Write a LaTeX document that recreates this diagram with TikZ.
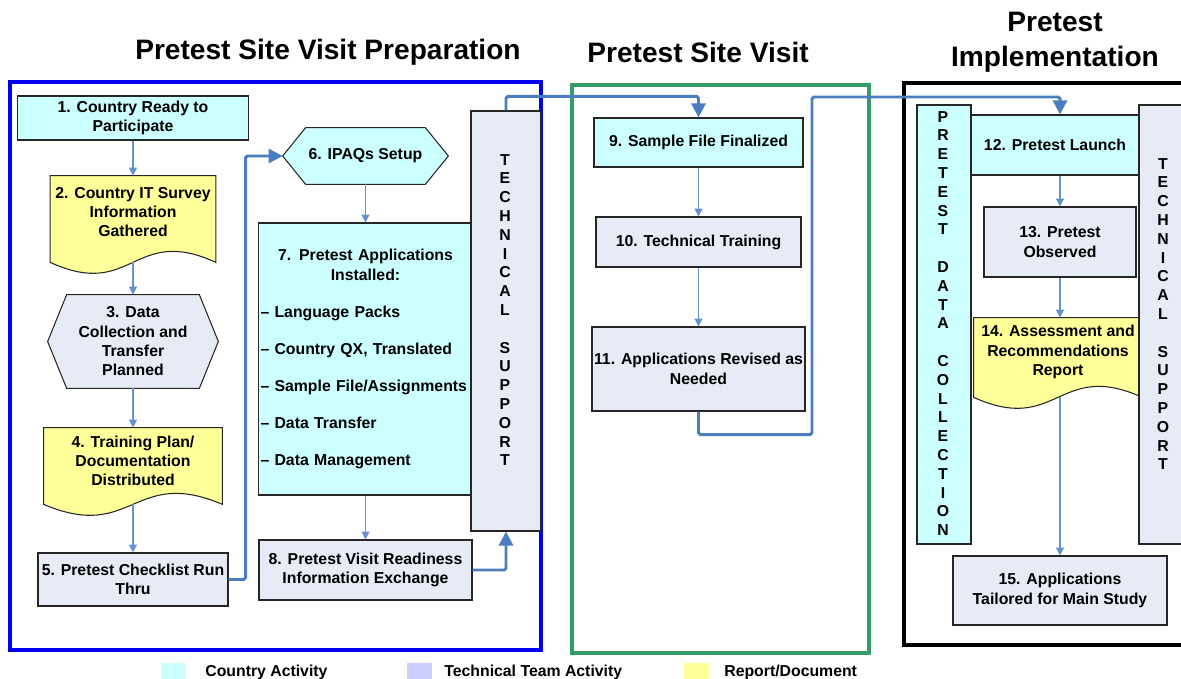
\documentclass[tikz,border=0pt]{standalone}
\usepackage{fontspec}
\setmainfont{Liberation Sans}
\usetikzlibrary{
    arrows.meta,
    calc,
    backgrounds
}
\definecolor{countrycyan}{RGB}{204,255,255}
\definecolor{techlavender}{RGB}{230,235,246}
\definecolor{legendlavender}{RGB}{204,204,255}
\definecolor{reportyellow}{RGB}{255,255,153}
\definecolor{flowblue}{RGB}{74,126,193}
\definecolor{thinblue}{RGB}{100,145,210}
\definecolor{prepblue}{RGB}{0,0,238}
\definecolor{visitgreen}{RGB}{53,156,103}
\tikzset{
    % Sizes (in pixels of the picture)
    sized/.style 2 args={minimum width=#1*0.02cm,minimum height=#2*0.02cm},
    %
    % Boxes
    box/.style={draw=black!85,line width=0.6pt,align=center,inner xsep=1pt,inner ysep=1pt},
    country box/.style={box,fill=countrycyan},
    tech box/.style={box,fill=techlavender},
    doc box/.style={align=center,inner sep=1pt},
    shape line/.style={draw=black!85,line width=0.6pt},
    bar/.style={box,inner sep=0pt},
    letters/.style={align=center,inner sep=0pt,font=\fontsize{9}{10.7}\selectfont\bfseries},
    %
    % Frames and titles
    frame/.style={line width=1.9pt,color=#1},
    title/.style={align=center,font=\fontsize{16}{20}\selectfont\bfseries},
    %
    % Arrows
    flow tip/.tip={Triangle[length=4.5pt,width=4.5pt]},
    big tip/.tip={Triangle[length=8pt,width=8pt]},
    arr/.style={-{flow tip},draw=thinblue,line width=0.75pt},
    conn/.style={-{big tip},draw=flowblue,line width=1.7pt,rounded corners=1pt},
    %
    % Legend
    swatch/.style={minimum width=25*0.02cm,minimum height=18*0.02cm,inner sep=0pt},
    legend text/.style={anchor=west,inner sep=0pt}
}
\tikzstyle{every node}=[font=\fontsize{9}{11}\selectfont\bfseries]

\begin{document}
\begin{tikzpicture}[x=0.02cm,y=-0.02cm]
    \useasboundingbox (0,0) rectangle (1181,679);

    % titles and frames
    \node[title] (t prep) at (328,52) {Pretest Site Visit Preparation};
    \node[title] (t visit) at (698,52) {Pretest Site Visit};
    \node[title] (t impl) at (1055,42) {Pretest\\Implementation};
    \draw[frame=prepblue] (10,82) rectangle (541,650);
    \draw[frame=visitgreen] (572,85) rectangle (869,653);
    \draw[frame=black] (904,83) rectangle (1195,645);

    % preparation
    \node[country box,sized={231}{44}] (n1) at (133,118) {1. Country Ready to\\Participate};
    \node[doc box,sized={165}{72}] (n2) at (133,212) {2. Country IT Survey\\Information\\Gathered};
    \node[doc box,sized={132}{93}] (n3) at (133,341.5) {3. Data\\Collection and\\Transfer\\Planned};
    \node[doc box,sized={178}{66}] (n4) at (133,461) {4. Training Plan/\\Documentation\\Distributed};
    \node[tech box,sized={190}{53}] (n5) at (133,579.5) {5. Pretest Checklist Run\\Thru};
    \node[doc box,sized={119}{56}] (n6) at (365.5,156) {6. IPAQs Setup};
    \node[country box,sized={212}{272},text width=210*0.02cm,align=left] (n7) at (365.5,359) {%
        {\centering 7. Pretest Applications\\Installed:\par}\vspace{10.5pt}%
        \textendash{} Language Packs\\[10pt]%
        \textendash{} Country QX, Translated\\[10pt]%
        \textendash{} Sample File/Assignments\\[10pt]%
        \textendash{} Data Transfer\\[10pt]%
        \textendash{} Data Management};
    \node[tech box,sized={213}{60}] (n8) at (365.5,570) {8. Pretest Visit Readiness\\Information Exchange};
    \node[bar,fill=techlavender,sized={70}{420}] (ts1) at (506,321) {};
    \node[letters] (ts1 text) at (505,310) {T\\E\\C\\H\\N\\I\\C\\A\\L\\[10.7pt]S\\U\\P\\P\\O\\R\\T};

    % site visit
    \node[country box,sized={209}{49}] (n9) at (698.5,142.5) {9. Sample File Finalized};
    \node[tech box,sized={205}{50}] (n10) at (698.5,242) {10. Technical Training};
    \node[tech box,sized={213}{84}] (n11) at (698.5,369) {11. Applications Revised as\\Needed};

    % implementation
    \node[country box,sized={168}{60}] (n12) at (1055,145) {12. Pretest Launch};
    \node[tech box,sized={152}{70}] (n13) at (1060,242) {13. Pretest\\Observed};
    \node[doc box,sized={168}{68}] (n14) at (1058,352) {14. Assessment and\\Recommendations\\Report};
    \node[tech box,sized={214}{69}] (n15) at (1060,590.5) {15. Applications\\Tailored for Main Study};
    \node[bar,fill=countrycyan,sized={54}{439}] (dc) at (944,324.5) {};
    \node[letters] (dc text) at (943,323.5)
        {P\\R\\E\\T\\E\\S\\T\\[10.7pt]D\\A\\T\\A\\[10.7pt]C\\O\\L\\L\\E\\C\\T\\I\\O\\N};
    \node[bar,fill=techlavender,sized={48}{439}] (ts2) at (1163,324.5) {};
    \node[letters] (ts2 text) at (1163,314) {T\\E\\C\\H\\N\\I\\C\\A\\L\\[10.7pt]S\\U\\P\\P\\O\\R\\T};

    % document and hexagon outlines behind their text
    \begin{scope}[on background layer]
        \foreach \d/\o in {n2/14,n4/10,n14/11}{
            \draw[shape line,fill=reportyellow] (\d.north west) -- (\d.north east) -- ($(\d.south east)+(0,\o)$)
                .. controls ($(\d.south)+(0,\o-38)$) and ($(\d.south)+(0,\o+38)$) .. ($(\d.south west)+(0,\o)$) -- cycle;
            \coordinate (\d-bot) at ($(\d.south)+(0,\o)$);
        }
        \foreach \h/\p/\c in {n3/19/techlavender,n6/23/countrycyan}{
            \draw[shape line,fill=\c] (\h.north west) -- (\h.north east) -- ($(\h.east)+(\p,0)$)
                -- (\h.south east) -- (\h.south west) -- ($(\h.west)+(-\p,0)$) -- cycle;
            \coordinate (\h-tip) at ($(\h.west)+(-\p,0)$);
        }
    \end{scope}

    % thin arrows
    \draw[arr] (n1) -- (n2.north);
    \draw[arr] (n2-bot) -- (n3.north);
    \draw[arr] (n3) -- (n4.north);
    \draw[arr] (n4-bot) -- (n5);
    \draw[arr] (n6) -- (n7);
    \draw[arr] (n7) -- (n8);
    \draw[arr] (n9) -- (n10);
    \draw[arr] (n10) -- (n11);
    \draw[arr] (n12.south -| n13.north) -- (n13);
    \draw[arr] (n13) -- (n13.south |- n14.north);
    \draw[arr] (n15.north |- n14-bot) -- (n15);

    % thick connectors
    \draw[conn] (n5.east) -- ++(17,0) |- (n6-tip);
    \draw[conn] (n8.east) -| (ts1.south);
    \draw[conn] (ts1.north) -- ++(0,-14) -| (n9.north);
    \draw[conn] (n11.south) -- ++(0,23) -| (812,97) -| (n12.north -| n13.north);

    % legend
    \node[swatch,fill=countrycyan] (leg1) at (173.5,672) {};
    \node[legend text] (leg1 text) at (205,672) {Country Activity};
    \node[swatch,fill=legendlavender] (leg2) at (419,672) {};
    \node[legend text] (leg2 text) at (444,672) {Technical Team Activity};
    \node[swatch,fill=reportyellow] (leg3) at (696.5,672) {};
    \node[legend text] (leg3 text) at (724,672) {Report/Document};
\end{tikzpicture}
\end{document}
